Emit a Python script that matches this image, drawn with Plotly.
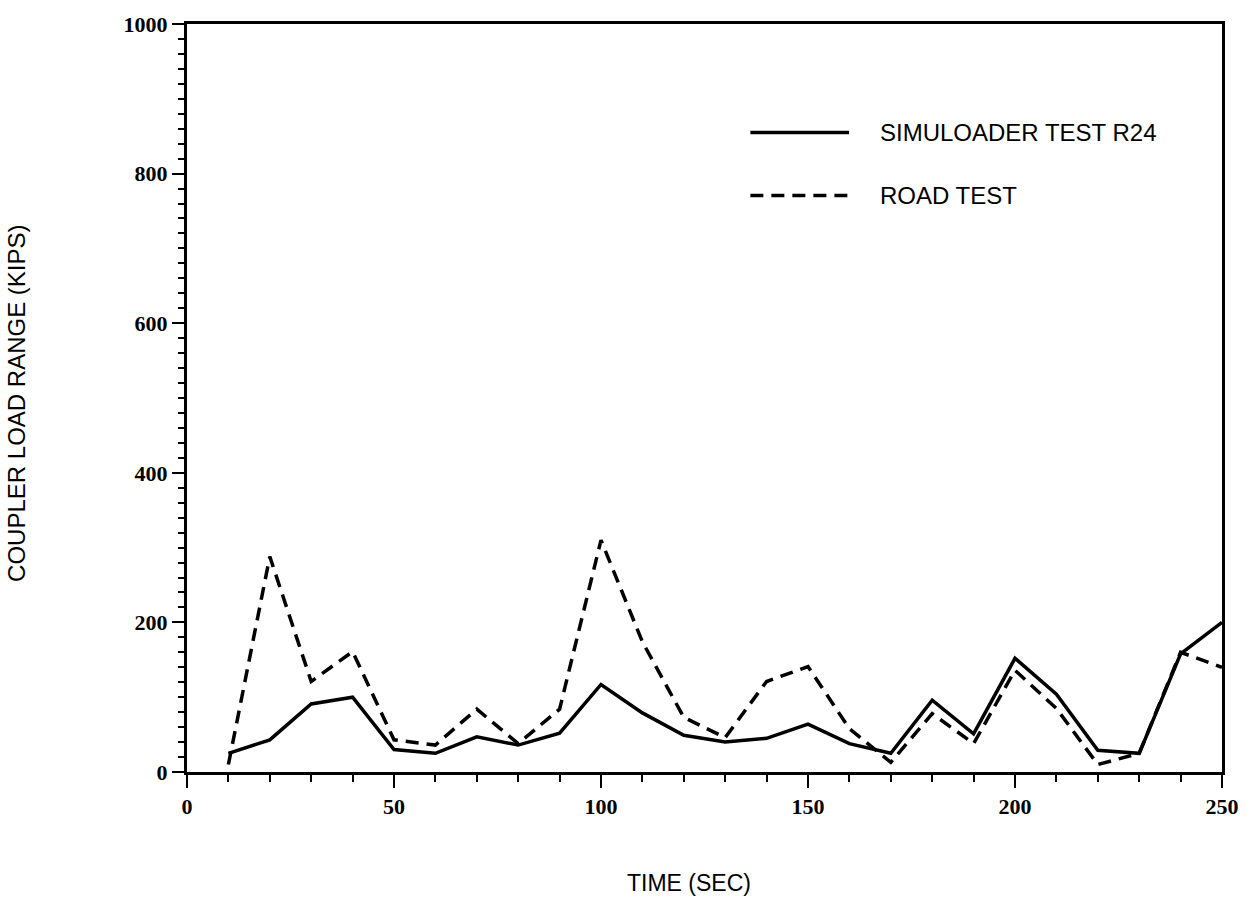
import plotly.graph_objects as go

time_sec = [10, 20, 30, 40, 50, 60, 70, 80, 90, 100, 110, 120, 130,
            140, 150, 160, 170, 180, 190, 200, 210, 220, 230, 240, 250]
simuloader = [25, 43, 91, 100, 30, 25, 47, 36, 52, 117, 79, 49, 40,
              45, 64, 38, 25, 96, 51, 152, 104, 29, 25, 158, 200]
road_test = [10, 288, 121, 161, 43, 36, 84, 38, 84, 310, 174, 73, 46,
             121, 141, 58, 13, 78, 38, 136, 85, 10, 25, 160, 140]

x_ticks = [0, 50, 100, 150, 200, 250]
y_ticks = [0, 200, 400, 600, 800, 1000]

legend_names = ["SIMULOADER TEST R24", "ROAD TEST"]

fig = go.Figure()
fig.add_trace(go.Scatter(x=time_sec, y=simuloader, mode="lines",
                         line=dict(color="black", width=3.5),
                         name=legend_names[0], showlegend=False))
fig.add_trace(go.Scatter(x=time_sec, y=road_test, mode="lines",
                         line=dict(color="black", width=3.5, dash="13px,8px"),
                         name=legend_names[1], showlegend=False))

tickfont = dict(family="Liberation Serif", size=22, color="black")
fig.update_layout(
    width=1251, height=908,
    paper_bgcolor="white", plot_bgcolor="white",
    margin=dict(l=187, r=26, t=13, b=136),
    xaxis=dict(range=[0, 250], tickvals=x_ticks, ticktext=[f"<b>{v}</b>" for v in x_ticks],
               showgrid=False, zeroline=False, showline=True, linewidth=3,
               linecolor="black", mirror=True, ticks="outside", ticklen=13,
               tickwidth=2, tickcolor="black", tickfont=tickfont,
               minor=dict(dtick=10, ticks="outside", ticklen=7, tickwidth=2,
                          tickcolor="black", showgrid=False)),
    yaxis=dict(range=[0, 1000], tickvals=y_ticks, ticktext=[f"<b>{v}</b>" for v in y_ticks],
               showgrid=False, zeroline=False, showline=True, linewidth=3,
               linecolor="black", mirror=True, ticks="outside", ticklen=12,
               tickwidth=2, tickcolor="black", tickfont=tickfont,
               minor=dict(dtick=20, ticks="outside", ticklen=6, tickwidth=2,
                          tickcolor="black", showgrid=False)),
)


def px_x(px):
    return (px - 187) / 1038


def px_y(py):
    return (772 - py) / 759


# Axis titles
fig.add_annotation(text="TIME (SEC)", xref="paper", yref="paper",
                   x=px_x(626), y=px_y(885),
                   showarrow=False, xanchor="left", yanchor="middle",
                   font=dict(family="Liberation Sans", size=23, color="black"))
fig.add_annotation(text="COUPLER LOAD RANGE (KIPS)", xref="paper", yref="paper",
                   x=px_x(16), y=px_y(398), textangle=-90,
                   showarrow=False, xanchor="center", yanchor="middle",
                   font=dict(family="Liberation Sans", size=24, color="black"))

# Legend drawn manually
legend_rows = [(123, "solid"), (187, "13px,8px")]
for (py, dash), name in zip(legend_rows, legend_names):
    fig.add_shape(type="line", xref="paper", yref="paper",
                  x0=px_x(752), x1=px_x(851), y0=px_y(py), y1=px_y(py),
                  line=dict(color="black", width=3.5, dash=dash))
    fig.add_annotation(text=name, xref="paper", yref="paper",
                       x=px_x(880), y=px_y(py), showarrow=False,
                       xanchor="left", yanchor="middle",
                       font=dict(family="Liberation Sans", size=24, color="black"))

fig.write_html("out.html")
